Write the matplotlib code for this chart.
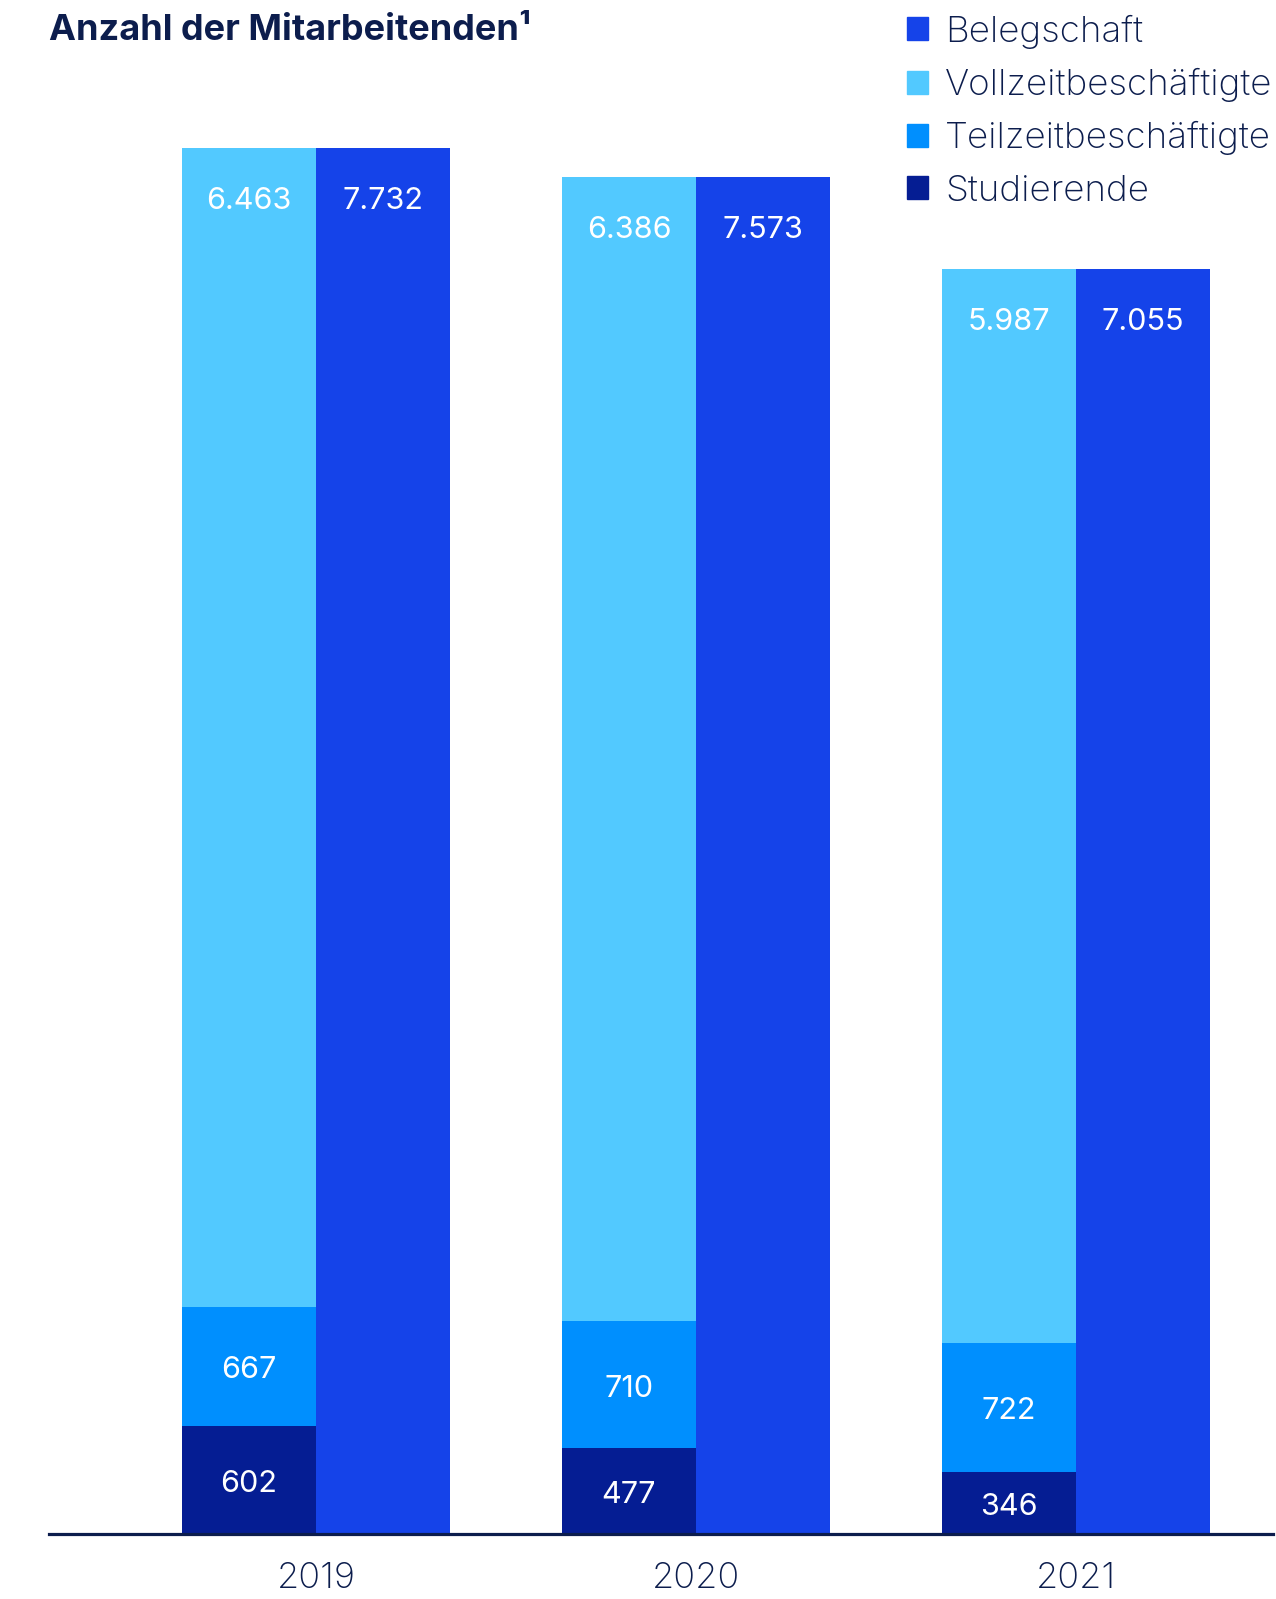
import matplotlib.pyplot as plt
from matplotlib.patches import Patch

plt.rcParams["font.family"] = ["Inter", "DejaVu Sans"]

years = ["2019", "2020", "2021"]
studierende = [602, 477, 346]
teilzeit = [667, 710, 722]
vollzeit = [6463, 6386, 5987]
belegschaft = [7732, 7573, 7055]

c_beleg = "#1543e9"
c_voll = "#52c9ff"
c_teil = "#008ffe"
c_stud = "#051d93"
navy = "#0c1d4d"

W, H = 1276, 1599
fig = plt.figure(figsize=(W / 100, H / 100), dpi=100)
ax = fig.add_axes([49 / W, (H - 1534) / H, (1273 - 49) / W, 1534 / H])

x = list(range(len(years)))
w = 0.353
left = [i - w / 2 for i in x]
right = [i + w / 2 for i in x]

ax.bar(left, studierende, w, color=c_stud)
ax.bar(left, teilzeit, w, bottom=studierende, color=c_teil)
base2 = [s + t for s, t in zip(studierende, teilzeit)]
ax.bar(left, vollzeit, w, bottom=base2, color=c_voll)
ax.bar(right, belegschaft, w, color=c_beleg)

def fmt(v):
    return f"{v:,}".replace(",", ".")

lab = dict(color="white", fontsize=22, ha="center", va="center",
           textcoords="offset pixels")
for i in x:
    ax.annotate(fmt(studierende[i]), (left[i], studierende[i] / 2),
                xytext=(0, -4), **lab)
    ax.annotate(fmt(teilzeit[i]), (left[i], studierende[i] + teilzeit[i] / 2),
                xytext=(0, -4), **lab)
    ax.annotate(fmt(vollzeit[i]), (left[i], base2[i] + vollzeit[i]),
                xytext=(0, -53), **lab)
    ax.annotate(fmt(belegschaft[i]), (right[i], belegschaft[i]),
                xytext=(0, -53), **lab)

ax.set_xlim(-0.7026, 2.518)
ax.set_ylim(0, 7732 * 1534 / 1386)
for s in ["top", "left", "right"]:
    ax.spines[s].set_visible(False)
ax.spines["bottom"].set_color(navy)
ax.spines["bottom"].set_linewidth(2.3)
ax.set_yticks([])
ax.set_xticks(x)
ax.set_xticklabels(years, fontsize=26, color=navy, fontweight="light")
ax.tick_params(axis="x", length=0, pad=20)

fig.text(49 / W, 1 - 30 / H, "Anzahl der Mitarbeitenden¹", fontsize=26,
         fontweight="bold", color=navy, ha="left", va="center")

handles = [Patch(color=c_beleg, label="Belegschaft"),
           Patch(color=c_voll, label="Vollzeitbeschäftigte"),
           Patch(color=c_teil, label="Teilzeitbeschäftigte"),
           Patch(color=c_stud, label="Studierende")]
leg = fig.legend(handles=handles, loc="upper left",
                 bbox_to_anchor=(892 / W, 1 + 0 / H), frameon=False,
                 prop=dict(family=["Inter", "DejaVu Sans"], size=26.5, weight="light"),
                 handlelength=0.59, handleheight=0.59,
                 handletextpad=0.45, labelspacing=0.52, borderaxespad=0)
for t in leg.get_texts():
    t.set_color(navy)

fig.savefig("out.png", dpi=100)
